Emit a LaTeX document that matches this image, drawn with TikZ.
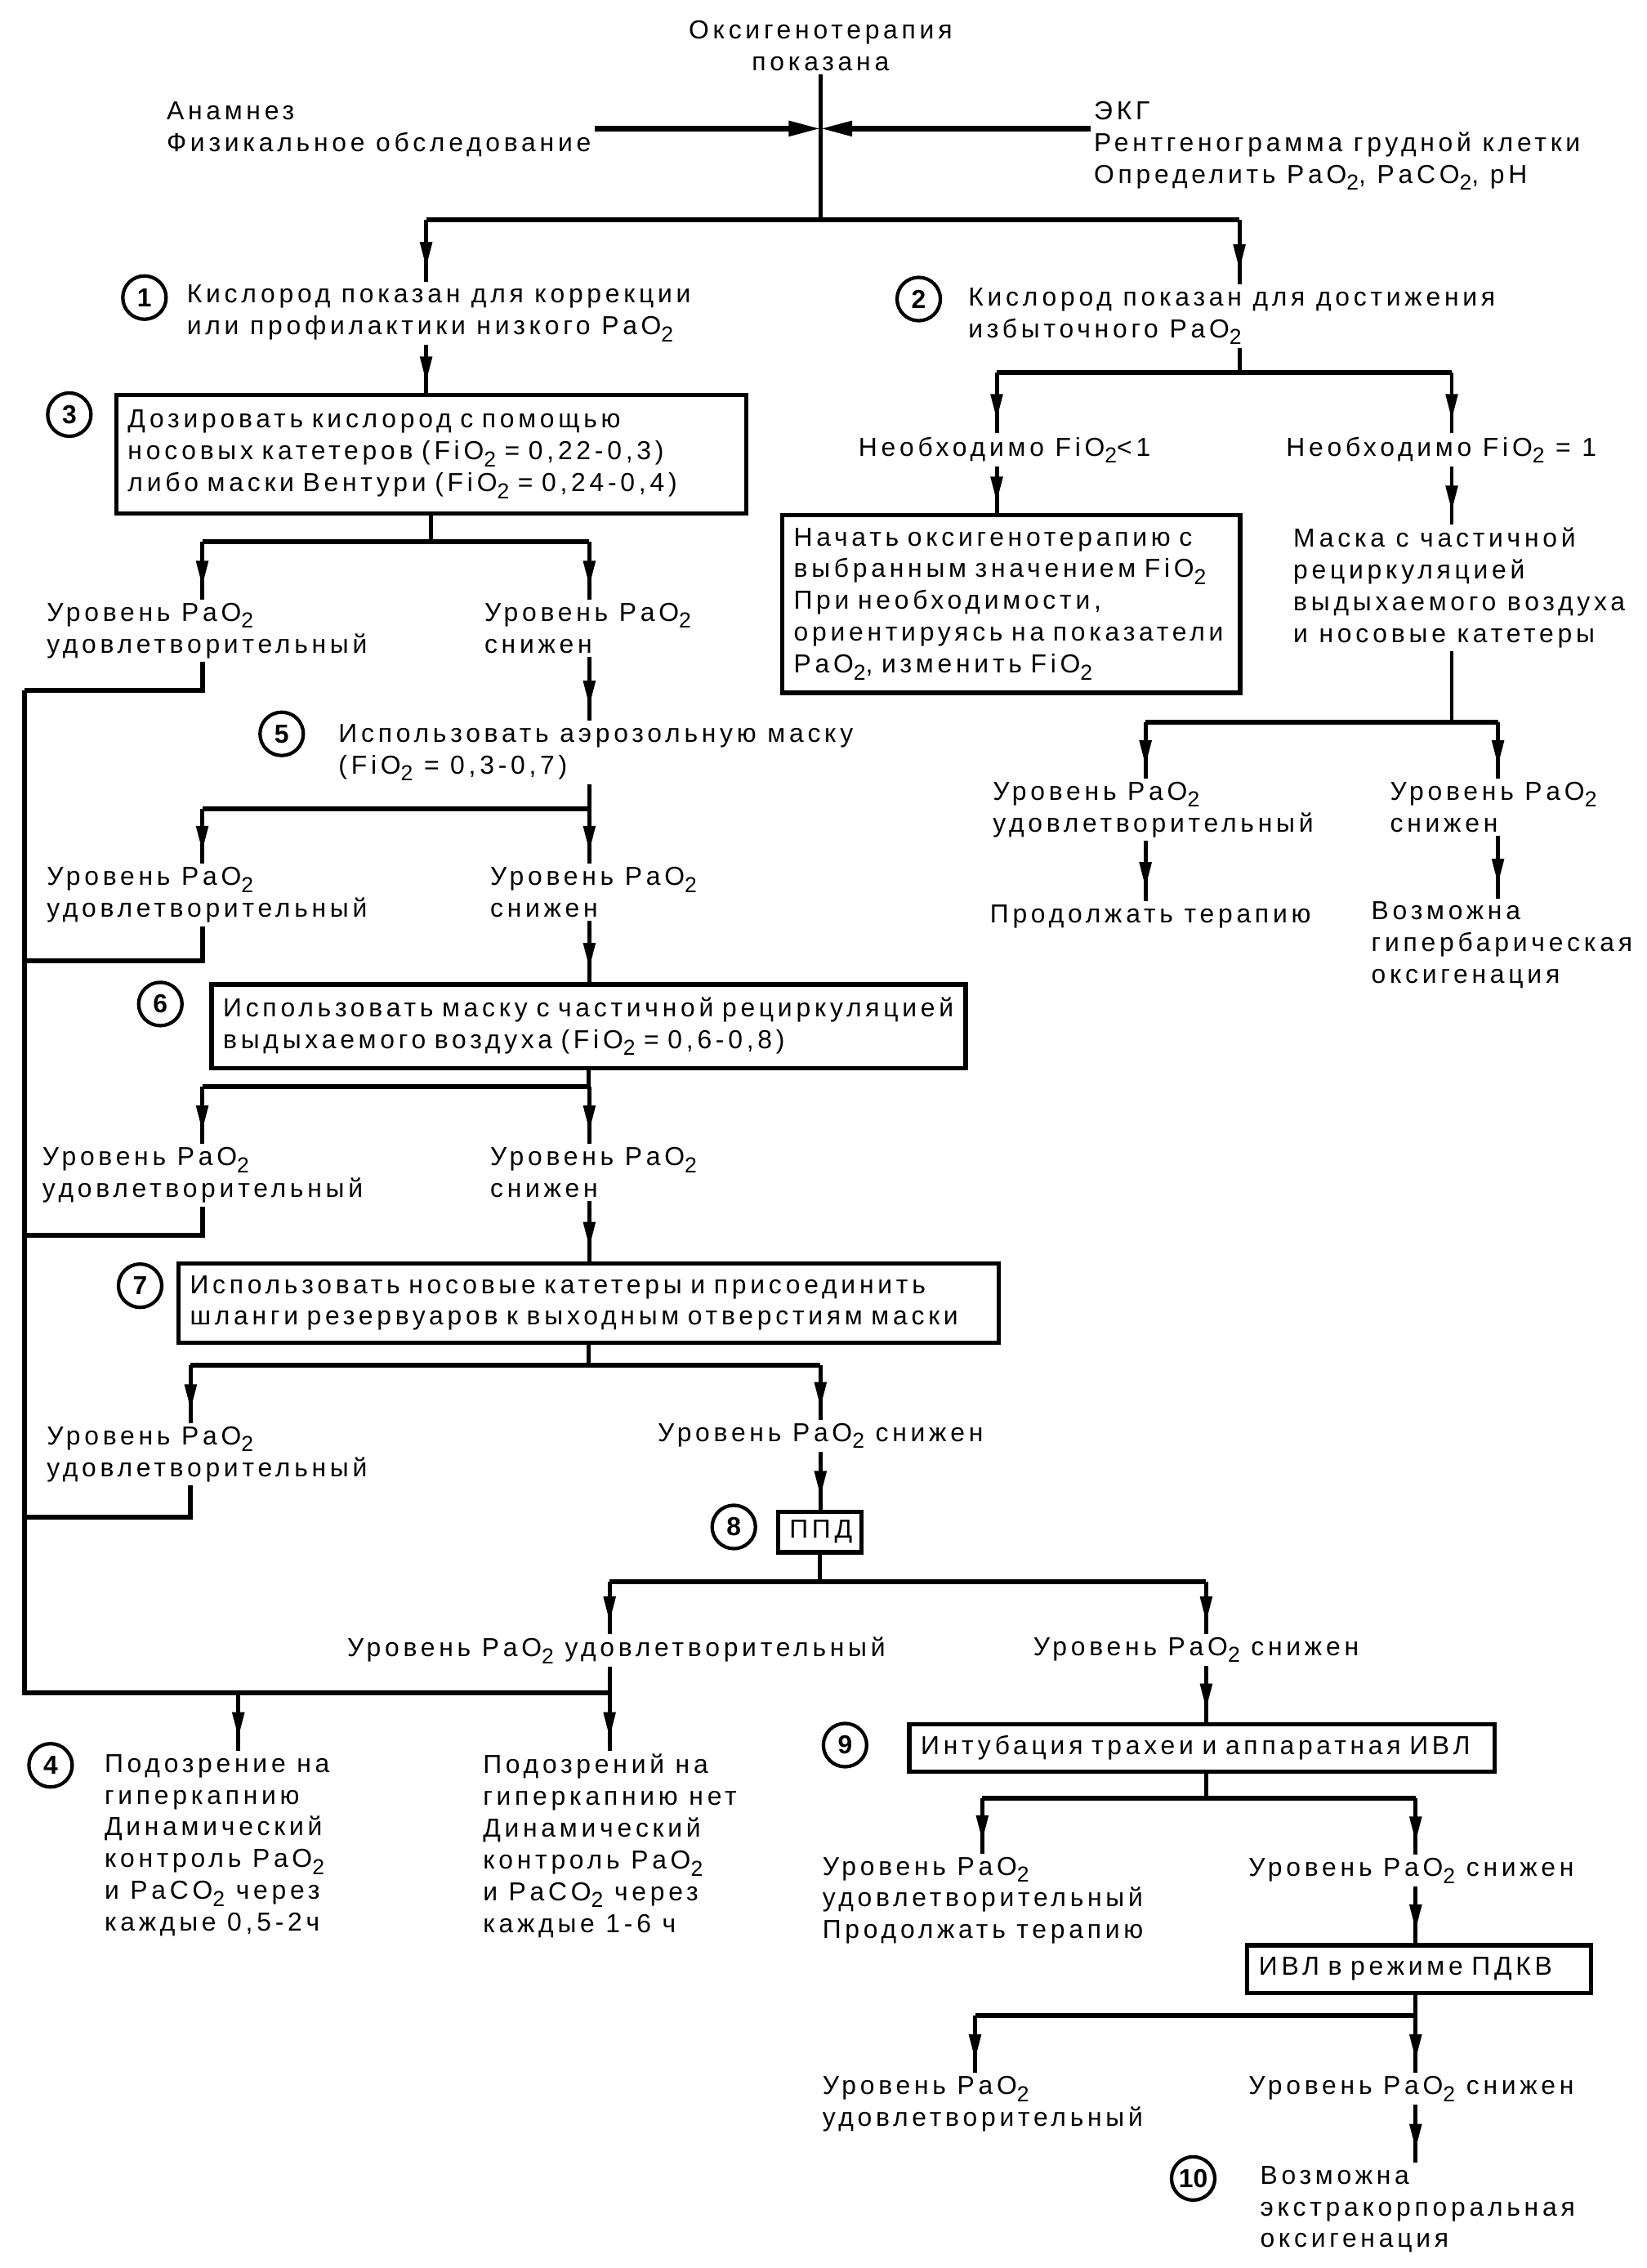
\documentclass[tikz,border=0pt]{standalone}
\usepackage{fontspec}
\setmainfont{Liberation Sans}[LetterSpace=15]
\usetikzlibrary{arrows.meta,decorations.markings}

\newcommand{\lowtwo}{\raisebox{-0.5ex}{\fontsize{7.5}{8}\selectfont 2}}
\newcommand{\pao}{PaO\lowtwo}
\newcommand{\paco}{PaCO\lowtwo}
\newcommand{\fio}{FiO\lowtwo}

\tikzset{
  txt/.style={anchor=north west, inner sep=1pt, align=left},
  box/.style={draw, line width=1.5pt, anchor=north west, inner xsep=4pt, inner ysep=0pt, align=left},
  num/.style={draw, circle, line width=1.2pt, minimum size=15pt, inner sep=0pt, font=\bfseries\fontsize{9}{11}\selectfont\addfontfeature{LetterSpace=0}},
  link/.style={line width=1.4pt},
  bar/.style={line width=1.7pt},
  arr/.style={link, postaction={decorate}, decoration={markings, mark=at position 0.78 with {\arrow{Triangle[length=9pt,width=4pt]}}}},
  bigarr/.style={line width=1.8pt, -{Triangle[length=11pt,width=5pt]}}
}

\begin{document}
\begin{tikzpicture}[x=0.5pt,y=-0.5pt,font=\fontsize{9}{11}\selectfont]
\useasboundingbox (0,0) rectangle (1140,1570);

% start
\node (top) [anchor=north, align=center, inner sep=1pt] at (568,12) {Оксигенотерапия\\показана};
\node (anam) [txt] at (113,68) {Анамнез\\Физикальное обследование};
\node (ecg) [txt] at (755,68) {ЭКГ\\Рентгенограмма грудной клетки\\Определить \pao, \paco, pH};
\coordinate (jc) at (568,89);
\coordinate (f1l) at (295,152);
\coordinate (f1r) at (858,152);
\draw[link] (top.south) -- (top.south |- f1l);
\draw[bigarr] (anam.east |- jc) -- (jc);
\draw[bigarr] (ecg.west |- jc) -- (jc);

\node (n1) [txt] at (127,195) {Кислород показан для коррекции\\или профилактики низкого \pao};
\node (c1) [num] at (100,206) {1};
\node (n2) [txt] at (668,197) {Кислород показан для достижения\\избыточного \pao};
\node (c2) [num] at (636,207) {2};
\draw[bar] (f1l) -- (f1r);
\draw[arr] (f1l) -- (f1l |- n1.north);
\draw[arr] (f1r) -- (f1r |- n2.north);

% left branch
\node (b3) [box, text width=210pt, minimum height=41pt] at (79,272) {Дозировать кислород с помощью\\носовых катетеров (\fio{} = 0,22-0,3)\\либо маски Вентури (\fio{} = 0,24-0,4)};
\node (c3) [num] at (48,287) {3};
\draw[arr] (f1l |- n1.south) -- (f1l |- b3.north);

\coordinate (f3l) at (140,375);
\coordinate (f3r) at (408,375);
\draw[link] (b3.south) -- (b3.south |- f3l);
\draw[bar] (f3l) -- (f3r);
\node (s3a) [txt] at (30,415) {Уровень \pao\\удовлетворительный};
\node (s3b) [txt] at (333,415) {Уровень \pao\\снижен};
\draw[arr] (f3l) -- (f3l |- s3a.north);
\draw[arr] (f3r) -- (f3r |- s3b.north);
\coordinate (l3) at (17,478);
\draw[bar] (f3l |- s3a.south) |- (l3);

\node (t5) [txt] at (232,499) {Использовать аэрозольную маску\\(\fio{} = 0,3-0,7)};
\node (c5) [num] at (195,508) {5};
\draw[arr] (f3r |- s3b.south) -- (f3r |- t5.north);

\coordinate (f5l) at (140,560);
\coordinate (f5r) at (408,560);
\draw[link] (f5r |- t5.south) -- (f5r);
\draw[bar] (f5l) -- (f5r);
\node (s5a) [txt] at (30,598) {Уровень \pao\\удовлетворительный};
\node (s5b) [txt] at (337,598) {Уровень \pao\\снижен};
\draw[arr] (f5l) -- (f5l |- s5a.north);
\draw[arr] (f5r) -- (f5r |- s5b.north);
\coordinate (l5) at (17,665);
\draw[bar] (f5l |- s5a.south) |- (l5);

\node (b6) [box, text width=253pt, minimum height=29pt] at (145,680) {Использовать маску с частичной рециркуляцией\\выдыхаемого воздуха (\fio{} = 0,6-0,8)};
\node (c6) [num] at (111,695) {6};
\draw[arr] (f5r |- s5b.south) -- (f5r |- b6.north);

\coordinate (f6l) at (140,752);
\coordinate (f6r) at (408,752);
\draw[link] (b6.south) -- (b6.south |- f6l);
\draw[bar] (f6l) -- (f6r);
\node (s6a) [txt] at (27,792) {Уровень \pao\\удовлетворительный};
\node (s6b) [txt] at (337,792) {Уровень \pao\\снижен};
\draw[arr] (f6l) -- (f6l |- s6a.north);
\draw[arr] (f6r) -- (f6r |- s6b.north);
\coordinate (l6) at (17,855);
\draw[bar] (f6l |- s6a.south) |- (l6);

\node (b7) [box, text width=276pt, minimum height=27.5pt] at (122,873) {Использовать носовые катетеры и присоединить\\шланги резервуаров к выходным отверстиям маски};
\node (c7) [num] at (97,890) {7};
\draw[arr] (f6r |- s6b.south) -- (f6r |- b7.north);

\coordinate (f7l) at (132,945);
\coordinate (f7r) at (568,945);
\draw[link] (b7.south) -- (b7.south |- f7l);
\draw[bar] (f7l) -- (f7r);
\node (s7a) [txt] at (30,985) {Уровень \pao\\удовлетворительный};
\node (s7b) [txt] at (453,983) {Уровень \pao{} снижен};
\draw[arr] (f7l) -- (f7l |- s7a.north);
\draw[arr] (f7r) -- (f7r |- s7b.north);
\coordinate (l7) at (17,1050);
\draw[bar] (f7l |- s7a.south) |- (l7);

\node (b8) [box, align=center, text width=21pt, minimum height=14pt] at (537,1045) {ППД};
\node (c8) [num] at (508,1057) {8};
\draw[arr] (f7r |- s7b.south) -- (f7r |- b8.north);

\coordinate (f8l) at (422,1095);
\coordinate (f8r) at (835,1095);
\draw[link] (b8.south) -- (b8.south |- f8l);
\draw[bar] (f8l) -- (f8r);
\node (s8a) [txt] at (238,1131) {Уровень \pao{} удовлетворительный};
\node (s8b) [txt] at (713,1131) {Уровень \pao{} снижен};
\draw[arr] (f8l) -- (f8l |- s8a.north);
\draw[arr] (f8r) -- (f8r |- s8b.north);

% return rail
\coordinate (rb) at (17,1172);
\coordinate (ra) at (165,1172);
\coordinate (rr) at (422,1172);
\draw[bar] (l3) -- (rb) -- (rr);
\draw[link] (f8l |- s8a.south) -- (rr);
\node (t4) [txt] at (70,1212) {Подозрение на\\гиперкапнию\\Динамический\\контроль \pao\\и \paco{} через\\каждые 0,5-2ч};
\node (c4) [num] at (35,1222) {4};
\node (t4b) [txt] at (332,1212) {Подозрений на\\гиперкапнию нет\\Динамический\\контроль \pao\\и \paco{} через\\каждые 1-6 ч};
\draw[arr] (ra) -- (ra |- t4.north);
\draw[arr] (rr) -- (rr |- t4b.north);

\node (b9) [box, text width=194.5pt, minimum height=16.5pt] at (628,1192) {Интубация трахеи и аппаратная ИВЛ};
\node (c9) [num] at (585,1208) {9};
\draw[arr] (f8r |- s8b.south) -- (f8r |- b9.north);

\coordinate (f9l) at (680,1245);
\coordinate (f9r) at (980,1245);
\draw[link] (f8r |- b9.south) -- (f8r |- f9l);
\draw[bar] (f9l) -- (f9r);
\node (s9a) [txt] at (567,1283) {Уровень \pao\\удовлетворительный\\Продолжать терапию};
\node (s9b) [txt] at (862,1284) {Уровень \pao{} снижен};
\draw[arr] (f9l) -- (f9l |- s9a.north);
\draw[arr] (f9r) -- (f9r |- s9b.north);

\node (b10) [box, text width=111pt, minimum height=16.5pt] at (862,1345) {ИВЛ в режиме ПДКВ};
\draw[arr] (f9r |- s9b.south) -- (f9r |- b10.north);

\coordinate (f10l) at (675,1395);
\coordinate (f10r) at (980,1395);
\draw[link] (f10r |- b10.south) -- (f10r);
\draw[bar] (f10l) -- (f10r);
\node (s10a) [txt] at (567,1435) {Уровень \pao\\удовлетворительный};
\node (s10b) [txt] at (862,1435) {Уровень \pao{} снижен};
\draw[arr] (f10l) -- (f10l |- s10a.north);
\draw[arr] (f10r) -- (f10r |- s10b.north);

\node (t10) [txt] at (870,1497) {Возможна\\экстракорпоральная\\оксигенация};
\node (c10) [num] at (826,1508) {10};
\draw[arr] (f10r |- s10b.south) -- (f10r |- t10.north);

% right branch
\coordinate (f2l) at (690,258);
\coordinate (f2r) at (1005,258);
\draw[link] (f1r |- n2.south) -- (f1r |- f2l);
\draw[bar] (f2l) -- (f2r);
\node (t2a) [txt] at (592,300) {Необходимо \fio<1};
\node (t2b) [txt] at (888,300) {Необходимо \fio{} = 1};
\draw[arr] (f2l) -- (f2l |- t2a.north);
\draw[arr] (f2r) -- (f2r |- t2b.north);

\node (b2) [box, text width=150.5pt, minimum height=61.5pt] at (540,355) {Начать оксигенотерапию с\\выбранным значением \fio\\При необходимости,\\ориентируясь на показатели\\\pao, изменить \fio};
\draw[arr] (f2l |- t2a.south) -- (f2l |- b2.north);
\node (t2c) [txt] at (893,363) {Маска с частичной\\рециркуляцией\\выдыхаемого воздуха\\и носовые катетеры};
\draw[arr] (f2r |- t2b.south) -- (f2r |- t2c.north);

\coordinate (f2cl) at (793,500);
\coordinate (f2cr) at (1037,500);
\draw[link] (f2r |- t2c.south) -- (f2r |- f2cl);
\draw[bar] (f2cl) -- (f2cr);
\node (s2a) [txt] at (685,539) {Уровень \pao\\удовлетворительный};
\node (s2b) [txt] at (960,539) {Уровень \pao\\снижен};
\draw[arr] (f2cl) -- (f2cl |- s2a.north);
\draw[arr] (f2cr) -- (f2cr |- s2b.north);
\node (p2a) [txt] at (683,624) {Продолжать терапию};
\node (p2b) [txt] at (947,622) {Возможна\\гипербарическая\\оксигенация};
\draw[arr] (f2cl |- s2a.south) -- (f2cl |- p2a.north);
\draw[arr] (f2cr |- s2b.south) -- (f2cr |- p2b.north);
\end{tikzpicture}
\end{document}
